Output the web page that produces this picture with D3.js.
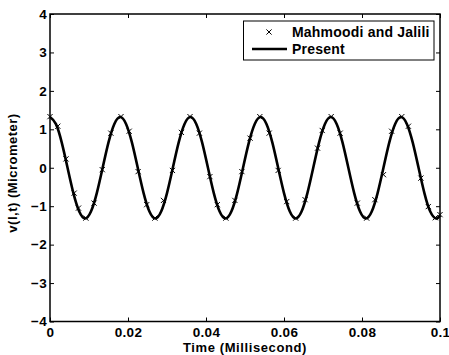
<!DOCTYPE html>
<html>
<head>
<meta charset="utf-8">
<script src="https://cdn.jsdelivr.net/npm/d3@7"></script>
<style>
  body { margin: 0; background: #fff; }
  text { font-family: "Liberation Sans", Arial, sans-serif; font-weight: bold; }
</style>
</head>
<body>
<div id="chart"></div>
<script>
// time axis ticks (millisecond) and their labels
var xTicks = [0, 0.02, 0.04, 0.06, 0.08, 0.1];
var xTickLabels = ["0", "0.02", "0.04", "0.06", "0.08", "0.1"];
var yTicks = [-4, -3, -2, -1, 0, 1, 2, 3, 4];

// "Present" solution, every 0.0015 ms
var presentT = [];
for (var k = 0; k <= 66; k++) presentT.push(+(k * 0.0015).toFixed(4));
presentT.push(0.1);
var presentV = [
  1.32, 1.14, 0.66, 0, -0.66, -1.14, -1.32, -1.14, -0.66, 0, 0.66, 1.14,
  1.32, 1.14, 0.66, 0, -0.66, -1.14, -1.32, -1.14, -0.66, 0, 0.66, 1.14,
  1.32, 1.14, 0.66, 0, -0.66, -1.14, -1.32, -1.14, -0.66, 0, 0.66, 1.14,
  1.32, 1.14, 0.66, 0, -0.66, -1.14, -1.32, -1.14, -0.66, 0, 0.66, 1.14,
  1.32, 1.14, 0.66, 0, -0.66, -1.14, -1.32, -1.14, -0.66, 0, 0.66, 1.14,
  1.32, 1.14, 0.66, 0, -0.66, -1.14, -1.32, -1.24
];

// Mahmoodi and Jalili points
var mjT = [0, 0.0020, 0.0041, 0.0062, 0.0073, 0.0092, 0.0113, 0.0134, 0.0156, 0.0182,
  0.0203, 0.0226, 0.0248, 0.0269, 0.0291, 0.0314, 0.0337, 0.0359, 0.0383, 0.0410,
  0.0429, 0.0451, 0.0474, 0.0492, 0.0513, 0.0538, 0.0562, 0.0585, 0.0607, 0.0630,
  0.0654, 0.0686, 0.0698, 0.0721, 0.0744, 0.0788, 0.0812, 0.0833, 0.0855, 0.0876,
  0.0902, 0.0919, 0.0951, 0.0970, 0.0988, 0.1];
var mjV = [1.33, 1.08, 0.23, -0.66, -1.05, -1.31, -0.92, -0.05, 0.90, 1.33,
  0.95, -0.10, -0.96, -1.31, -0.85, -0.07, 0.92, 1.33, 0.90, -0.23,
  -0.96, -1.31, -0.85, -0.10, 0.77, 1.33, 0.90, -0.07, -0.88, -1.31,
  -0.83, 0.51, 0.97, 1.33, 0.90, -0.92, -1.31, -0.83, -0.18, 0.95,
  1.33, 1.08, -0.27, -1.01, -1.30, -1.22];

var W = 449, H = 355;
var plotL = 50, plotR = 440, plotT = 14, plotB = 321.5;

var svg = d3.select("#chart")
  .append("svg")
  .attr("width", W)
  .attr("height", H);

var xScale = d3.scaleLinear().domain([0, 0.1]).range([plotL, plotR]);
var yScale = d3.scaleLinear().domain([-4, 4]).range([plotB, plotT]);

// curve
var line = d3.line()
  .x(function(d, i) { return xScale(presentT[i]); })
  .y(function(d) { return yScale(d); })
  .curve(d3.curveNatural);

svg.append("path")
  .datum(presentV)
  .attr("d", line)
  .attr("fill", "none")
  .attr("stroke", "#000")
  .attr("stroke-width", 2.6);

// x markers
var s = 2.6;
var crossPath = "M" + (-s) + "," + (-s) + "L" + s + "," + s + "M" + (-s) + "," + s + "L" + s + "," + (-s);
svg.selectAll(".mj")
  .data(mjV)
  .enter()
  .append("path")
  .attr("class", "mj")
  .attr("transform", function(d, i) {
    return "translate(" + xScale(mjT[i]) + "," + yScale(d) + ")";
  })
  .attr("d", crossPath)
  .attr("stroke", "#000")
  .attr("stroke-width", 1);

// axes, ticks pointing inward
var xAxis = d3.axisBottom(xScale).tickValues(xTicks)
  .tickFormat(function(d, i) { return xTickLabels[i]; })
  .tickSizeInner(-4).tickSizeOuter(0).tickPadding(6);
var yAxis = d3.axisLeft(yScale).tickValues(yTicks)
  .tickFormat(d3.format("d"))
  .tickSizeInner(-4).tickSizeOuter(0).tickPadding(3);

var gx = svg.append("g").attr("transform", "translate(0," + plotB + ")").call(xAxis);
var gy = svg.append("g").attr("transform", "translate(" + plotL + ",0)").call(yAxis);
svg.append("g").attr("transform", "translate(0," + plotT + ")")
  .call(d3.axisTop(xScale).tickValues(xTicks).tickFormat("").tickSizeInner(-4).tickSizeOuter(0));
svg.append("g").attr("transform", "translate(" + plotR + ",0)")
  .call(d3.axisRight(yScale).tickValues(yTicks).tickFormat("").tickSizeInner(-4).tickSizeOuter(0));

svg.selectAll(".domain").remove();
svg.selectAll(".tick line").attr("stroke", "#000").attr("stroke-width", 1);
svg.selectAll(".tick text")
  .attr("font-size", 13.5)
  .attr("letter-spacing", 0.3)
  .attr("fill", "#000");

svg.append("rect")
  .attr("x", plotL).attr("y", plotT)
  .attr("width", plotR - plotL).attr("height", plotB - plotT)
  .attr("fill", "none")
  .attr("stroke", "#000")
  .attr("stroke-width", 1.5);

// axis labels
svg.append("text")
  .attr("x", (plotL + plotR) / 2)
  .attr("y", 351.5)
  .attr("text-anchor", "middle")
  .attr("font-size", 13)
  .attr("letter-spacing", 0.6)
  .text("Time (Millisecond)");

svg.append("text")
  .attr("transform", "translate(17,173) rotate(-90)")
  .attr("text-anchor", "middle")
  .attr("font-size", 13)
  .attr("letter-spacing", 0.5)
  .text("v(l,t) (Micrometer)");

// legend
var lg = svg.append("g");
lg.append("rect")
  .attr("x", 243.5).attr("y", 21)
  .attr("width", 190.5).attr("height", 39)
  .attr("fill", "#fff")
  .attr("stroke", "#000")
  .attr("stroke-width", 1);
lg.append("path")
  .attr("transform", "translate(269,32)")
  .attr("d", crossPath)
  .attr("stroke", "#000");
lg.append("line")
  .attr("x1", 252).attr("x2", 287).attr("y1", 49).attr("y2", 49)
  .attr("stroke", "#000").attr("stroke-width", 2.6);
lg.append("text").attr("x", 292).attr("y", 37).attr("font-size", 14)
  .attr("letter-spacing", 0.2).text("Mahmoodi and Jalili");
lg.append("text").attr("x", 292).attr("y", 54).attr("font-size", 14)
  .attr("letter-spacing", 0.2).text("Present");
</script>
</body>
</html>
